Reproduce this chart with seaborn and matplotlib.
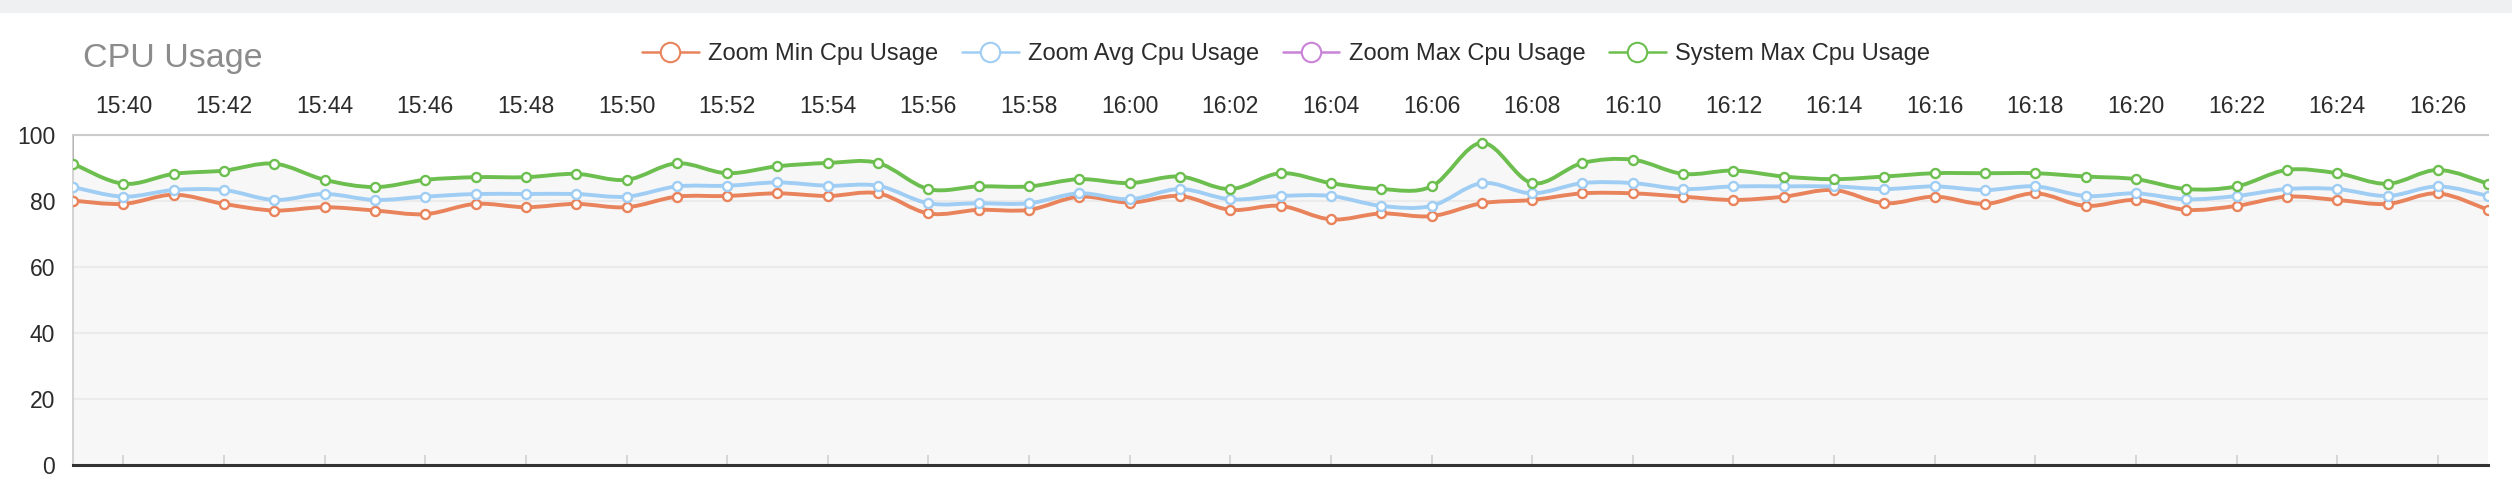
import numpy as np
import pandas as pd
import matplotlib
matplotlib.use('Agg')
import matplotlib.pyplot as plt
from matplotlib.path import Path
from matplotlib.patches import PathPatch, Rectangle
from matplotlib.lines import Line2D
import seaborn as sns

# one point per minute, 15:39 .. 16:27
times = ['15:39', '15:40', '15:41', '15:42', '15:43', '15:44', '15:45', '15:46', '15:47', '15:48',
         '15:49', '15:50', '15:51', '15:52', '15:53', '15:54', '15:55', '15:56', '15:57', '15:58',
         '15:59', '16:00', '16:01', '16:02', '16:03', '16:04', '16:05', '16:06', '16:07', '16:08',
         '16:09', '16:10', '16:11', '16:12', '16:13', '16:14', '16:15', '16:16', '16:17', '16:18',
         '16:19', '16:20', '16:21', '16:22', '16:23', '16:24', '16:25', '16:26', '16:27']

zoom_min = [80.0, 79.0, 81.8, 79.0, 77.0, 78.0, 77.0, 75.9, 79.0, 78.0, 79.0, 78.0, 81.2,
            81.4, 82.2, 81.4, 82.2, 76.1, 77.2, 77.2, 81.2, 79.4, 81.4, 77.2, 78.4,
            74.3, 76.1, 75.3, 79.2, 80.2, 82.2, 82.2, 81.2, 80.2, 81.2, 83.2, 79.2,
            81.2, 79.0, 82.2, 78.4, 80.2, 77.2, 78.4, 81.2, 80.2, 79.0, 82.2, 77.2]
zoom_avg = [84.1, 81.2, 83.2, 83.2, 80.2, 82.0, 80.2, 81.2, 82.0, 82.0, 82.0, 81.2, 84.3,
            84.5, 85.5, 84.5, 84.5, 79.2, 79.2, 79.2, 82.2, 80.4, 83.5, 80.4, 81.4,
            81.4, 78.4, 78.4, 85.3, 82.2, 85.3, 85.3, 83.5, 84.3, 84.3, 84.3, 83.5,
            84.3, 83.2, 84.3, 81.4, 82.2, 80.4, 81.4, 83.5, 83.5, 81.4, 84.3, 81.4]
zoom_max = []  # listed in the legend, nothing drawn
system_max = [91.2, 85.1, 88.1, 89.1, 91.2, 86.3, 84.1, 86.3, 87.1, 87.1, 88.1, 86.3, 91.3,
              88.3, 90.4, 91.4, 91.4, 83.5, 84.3, 84.3, 86.5, 85.3, 87.3, 83.5, 88.3,
              85.3, 83.5, 84.3, 97.5, 85.3, 91.4, 92.4, 88.1, 89.1, 87.3, 86.5, 87.3,
              88.3, 88.3, 88.3, 87.3, 86.5, 83.5, 84.3, 89.3, 88.3, 85.1, 89.3, 85.1]

tick_labels = ['15:40', '15:42', '15:44', '15:46', '15:48', '15:50', '15:52', '15:54',
               '15:56', '15:58', '16:00', '16:02', '16:04', '16:06', '16:08', '16:10',
               '16:12', '16:14', '16:16', '16:18', '16:20', '16:22', '16:24', '16:26']
y_ticks = [0, 20, 40, 60, 80, 100]

series_names = ['Zoom Min Cpu Usage', 'Zoom Avg Cpu Usage', 'Zoom Max Cpu Usage', 'System Max Cpu Usage']
series_values = [zoom_min, zoom_avg, zoom_max, system_max]
colors = ['#e8835c', '#9fcdf3', '#c882d6', '#6cbf4f']

rows = []
for name, vals in zip(series_names, series_values):
    for t, v in zip(times, vals):
        rows.append({'time': t, 'x': times.index(t), 'series': name, 'cpu': v})
df = pd.DataFrame(rows)


def spline_path(x, y, base=None):
    """Catmull-Rom curve through the points, as cubic bezier segments"""
    pts = np.column_stack([x, y]).astype(float)
    n = len(pts)
    verts = [pts[0]]
    codes = [Path.MOVETO]
    for i in range(n - 1):
        p0 = pts[max(i - 1, 0)]
        p1 = pts[i]
        p2 = pts[i + 1]
        p3 = pts[min(i + 2, n - 1)]
        verts += [p1 + (p2 - p0) / 6, p2 - (p3 - p1) / 6, p2]
        codes += [Path.CURVE4] * 3
    if base is not None:
        verts += [(x[-1], base), (x[0], base), pts[0]]
        codes += [Path.LINETO, Path.LINETO, Path.CLOSEPOLY]
    return Path(verts, codes)


sns.set_theme(style='white')
plt.rcParams['font.family'] = ['Liberation Sans', 'DejaVu Sans']

fig = plt.figure(figsize=(25.12, 4.78), dpi=100)
fig.patch.set_facecolor('white')
# grey strip along the top of the page
fig.add_artist(Rectangle((0, 1 - 13 / 478), 1, 13 / 478, transform=fig.transFigure,
                         facecolor='#eff0f2', edgecolor='none'))

ax = fig.add_axes([0.0291, 0.028, 0.9614, 0.6904])

# light fill under the top curve
sys_df = df[df['series'] == 'System Max Cpu Usage']
ax.add_patch(PathPatch(spline_path(sys_df['x'].values, sys_df['cpu'].values, base=0),
                       facecolor='#f7f7f7', edgecolor='none', zorder=0.2))

# hover marker line at the first sample
ax.plot([sys_df['x'].iloc[0]] * 2, [sys_df['cpu'].iloc[0], 100], color='#333333',
        linewidth=1.3, zorder=1.5)

for i, (name, c) in enumerate(zip(series_names, colors)):
    sub = df[df['series'] == name]
    if sub.empty:
        continue
    ax.add_patch(PathPatch(spline_path(sub['x'].values, sub['cpu'].values),
                           facecolor='none', edgecolor=c, linewidth=2.8,
                           capstyle='round', joinstyle='round', zorder=2 + 2 * i))
    sns.lineplot(data=sub, x='x', y='cpu', ax=ax, color=c, marker='o', markersize=6.5,
                 markerfacecolor='white', markeredgecolor=c, markeredgewidth=1.7,
                 linewidth=0, errorbar=None, legend=False, zorder=3 + 2 * i)

ax.set_xlim(0, len(times) - 1)
ax.set_ylim(0, 100)
ax.set_xlabel('')
ax.set_ylabel('')

ax.set_xticks([times.index(t) for t in tick_labels])
ax.set_xticklabels(tick_labels)
ax.set_yticks(y_ticks)
ax.set_yticklabels([str(v) for v in y_ticks])

ax.set_axisbelow(True)
ax.yaxis.grid(True, color='#ebebeb', linewidth=1.5)
ax.xaxis.grid(False)

ax.tick_params(axis='x', direction='in', length=7, width=1.2, color='#d0d0d0',
               bottom=True, top=False, labelbottom=False, labeltop=True,
               pad=12, labelsize=16.5, labelcolor='#2b2b2b')
ax.tick_params(axis='y', length=0, pad=13, labelsize=16.5, labelcolor='#2b2b2b')

ax.spines['right'].set_visible(False)
ax.spines['top'].set_color('#cccccc')
ax.spines['top'].set_linewidth(1.5)
ax.spines['left'].set_color('#cccccc')
ax.spines['left'].set_linewidth(1.2)
ax.spines['bottom'].set_color('#333333')
ax.spines['bottom'].set_linewidth(2.2)

fig.text(83 / 2512, 1 - 58 / 478, 'CPU Usage', fontsize=24.5, color='#8c8c8c',
         ha='left', va='center')

handles = [Line2D([], [], color=c, marker='o', markersize=14, markerfacecolor='white',
                  markeredgecolor=c, markeredgewidth=1.5, linewidth=1.8)
           for c in colors]
fig.legend(handles, series_names, loc='center', bbox_to_anchor=(0.512, 1 - 54 / 478),
           ncol=4, frameon=False, fontsize=17, handlelength=2.4, handletextpad=0.4,
           columnspacing=1.0, labelcolor='#2b2b2b')

fig.savefig('out.png', dpi=100)
